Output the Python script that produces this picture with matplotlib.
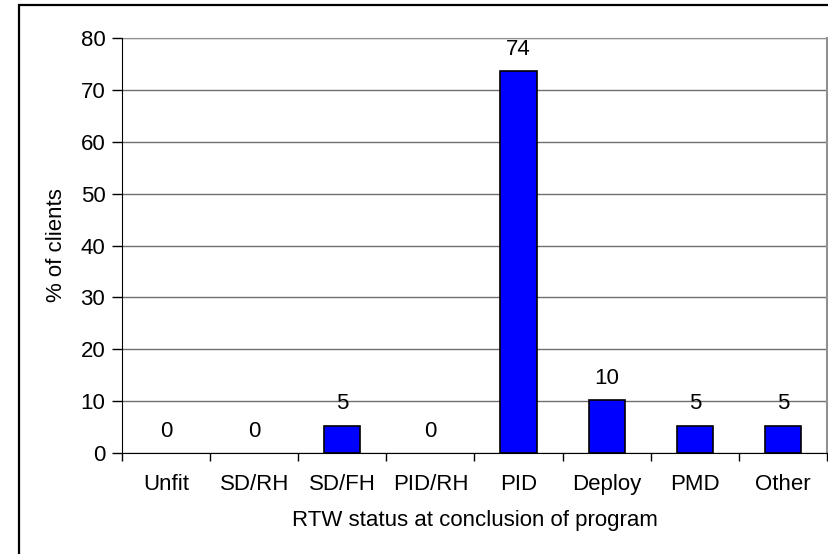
import matplotlib

matplotlib.use("Agg")
import matplotlib.pyplot as plt
from matplotlib.patches import Rectangle

categories = ["Unfit", "SD/RH", "SD/FH", "PID/RH", "PID", "Deploy", "PMD", "Other"]
pct_clients = [0, 0, 5.3, 0, 73.7, 10.2, 5.3, 5.3]
bar_labels = ["0", "0", "5", "0", "74", "10", "5", "5"]
yticks = [0, 10, 20, 30, 40, 50, 60, 70, 80]

plt.rcParams["font.family"] = ["Liberation Sans", "DejaVu Sans"]
FS = 16

fig = plt.figure(figsize=(8.29, 5.54), dpi=100)
ax = fig.add_axes([122 / 829, 1 - 453 / 554, 705 / 829, 415 / 554])

x = list(range(len(categories)))
edges = ["black" if v > 0 else "none" for v in pct_clients]
ax.bar(x, pct_clients, width=0.41, color="#0000ff", edgecolor=edges,
       linewidth=1.2, zorder=3)
for xi, v, lab in zip(x, pct_clients, bar_labels):
    ax.annotate(lab, (xi, v), xytext=(0, 8), textcoords="offset points",
                ha="center", va="bottom", fontsize=FS)

ax.set_xlim(-0.5, len(categories) - 0.5)
ax.set_ylim(0, 80)
ax.set_yticks(yticks)
ax.set_xticks([i - 0.5 for i in range(len(categories) + 1)])
ax.set_xticklabels([])
ax.set_xticks(x, categories, minor=True)
ax.tick_params(axis="x", which="minor", length=0, pad=15, labelsize=FS)
ax.tick_params(axis="x", which="major", length=6, direction="out", width=1)
ax.tick_params(axis="y", length=7, direction="out", width=1, labelsize=FS, pad=5)

ax.grid(axis="y", color="#707070", linewidth=1, zorder=0)
for side in ("left", "bottom"):
    ax.spines[side].set_color("black")
    ax.spines[side].set_zorder(4)
ax.spines["top"].set_color("#909090")
ax.spines["right"].set_color("#909090")
ax.spines["right"].set_linewidth(1.5)

ax.set_ylabel("% of clients", fontsize=FS, labelpad=10)
ax.set_xlabel("RTW status at conclusion of program", fontsize=FS, labelpad=11)

# outer chart-area frame (runs off the right and bottom edges)
fig.patches.append(Rectangle((19 / 829, -0.1), 1.2, 1.1 - 5 / 554,
                             transform=fig.transFigure, fill=False,
                             edgecolor="black", linewidth=1.6, clip_on=False))

fig.savefig("out.png", dpi=100)
